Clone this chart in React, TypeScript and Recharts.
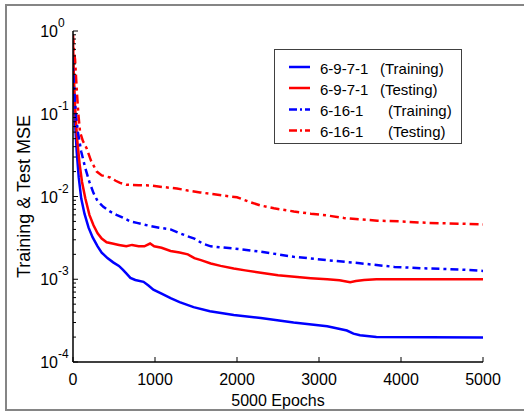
import { LineChart, Line, XAxis, YAxis } from 'recharts';

// series labels
const seriesNames = ['6-9-7-1', '6-9-7-1', '6-16-1', '6-16-1'];
const seriesKinds = ['(Training)', '(Testing)', '(Training)', '(Testing)'];

// 6-9-7-1 training
const net1TrainEpochs = [0, 10, 25, 45, 70, 100, 140, 190, 240, 300, 350, 420, 490, 560, 610, 650, 700, 760, 860, 920, 980, 1080, 1190, 1300, 1470, 1670, 1960, 2290, 2690, 3100, 3340, 3420, 3500, 3700, 5000];
const net1TrainMse = [0.5, 0.2, 0.08, 0.035, 0.017, 0.0095, 0.0062, 0.0042, 0.0032, 0.0025, 0.0021, 0.0018, 0.0016, 0.00145, 0.0013, 0.00118, 0.00104, 0.00098, 0.00093, 0.00084, 0.00075, 0.00067, 0.00059, 0.00053, 0.00046, 0.00041, 0.00037, 0.00034, 0.0003, 0.00027, 0.00024, 0.00022, 0.00021, 0.0002, 0.000198];

// 6-9-7-1 testing
const net1TestEpochs = [0, 10, 25, 50, 80, 110, 150, 200, 250, 300, 350, 410, 480, 560, 650, 720, 800, 870, 940, 990, 1080, 1190, 1300, 1400, 1480, 1560, 1680, 1800, 1960, 2100, 2290, 2500, 2700, 2900, 3100, 3250, 3380, 3450, 3550, 3700, 5000];
const net1TestMse = [0.8, 0.3, 0.12, 0.05, 0.025, 0.015, 0.0095, 0.006, 0.0045, 0.0036, 0.0031, 0.0028, 0.0027, 0.0026, 0.0025, 0.0026, 0.0025, 0.0025, 0.0027, 0.0025, 0.0024, 0.0022, 0.0021, 0.002, 0.0018, 0.0017, 0.00155, 0.00145, 0.00135, 0.00128, 0.0012, 0.00112, 0.00107, 0.00103, 0.001, 0.00097, 0.00092, 0.00095, 0.00098, 0.001, 0.001];

// 6-16-1 training
const net2TrainEpochs = [0, 15, 35, 60, 100, 150, 200, 250, 300, 370, 450, 530, 615, 700, 780, 860, 940, 1050, 1190, 1300, 1400, 1480, 1580, 1680, 1960, 2290, 2690, 3100, 3500, 3920, 4320, 4730, 5000];
const net2TrainMse = [0.5, 0.2, 0.1, 0.06, 0.035, 0.022, 0.015, 0.011, 0.0088, 0.0075, 0.0066, 0.006, 0.0055, 0.005, 0.0048, 0.0046, 0.0044, 0.0042, 0.004, 0.0036, 0.0033, 0.0031, 0.0027, 0.0025, 0.00235, 0.00215, 0.00187, 0.0017, 0.00156, 0.00141, 0.00135, 0.00131, 0.00126];

// 6-16-1 testing
const net2TestEpochs = [0, 10, 25, 45, 65, 86, 120, 167, 220, 290, 350, 452, 520, 574, 650, 800, 941, 1100, 1267, 1400, 1550, 1700, 1850, 2000, 2150, 2286, 2450, 2693, 2900, 3100, 3304, 3500, 3712, 4000, 4324, 4700, 5000];
const net2TestMse = [0.9, 0.6, 0.45, 0.2, 0.1, 0.06, 0.047, 0.038, 0.027, 0.02, 0.018, 0.017, 0.0155, 0.0146, 0.0139, 0.0137, 0.0136, 0.013, 0.0125, 0.0118, 0.0112, 0.0107, 0.0102, 0.0098, 0.0086, 0.0078, 0.0072, 0.0066, 0.0062, 0.0059, 0.0055, 0.0053, 0.0051, 0.005, 0.0048, 0.0047, 0.0046];

// axis ticks
const xTicks = [0, 1000, 2000, 3000, 4000, 5000];
const yDecades = [1e-4, 1e-3, 1e-2, 1e-1, 1];
const yMinorSteps = [2, 3, 4, 5, 6, 7, 8, 9];

const yTicks: number[] = [];
yDecades.forEach((d, i) => {
    yTicks.push(d);
    if (i < yDecades.length - 1) yMinorSteps.forEach(m => yTicks.push(d * m));
});

const zip = (xs: number[], ys: number[]) => xs.map((x, i) => ({ x, y: ys[i] }));

const series = [
    { data: zip(net1TrainEpochs, net1TrainMse), color: '#0000ff', dash: undefined },
    { data: zip(net1TestEpochs, net1TestMse), color: '#ff0000', dash: undefined },
    { data: zip(net2TrainEpochs, net2TrainMse), color: '#0000ff', dash: '8 4 3 4' },
    { data: zip(net2TestEpochs, net2TestMse), color: '#ff0000', dash: '9 4 3 4' },
];

const FONT = '"Liberation Sans", Arial, sans-serif';

const isMajor = (v: number) => {
    const l = Math.log10(v);
    return Math.abs(l - Math.round(l)) < 1e-6;
};

const LeftTick = ({ x, y, payload }: any) => {
    const major = isMajor(payload.value);
    const exp = Math.round(Math.log10(payload.value));
    return (
        <g>
            <line x1={x} x2={x + (major ? 5 : 3)} y1={y} y2={y} stroke="#000" />
            {major && (
                <>
                    <text x={x - 15} y={y + 6} textAnchor="end" fontSize={16} fontFamily={FONT} fill="#000">10</text>
                    <text x={x - 15} y={y - 4} textAnchor="start" fontSize={12} fontFamily={FONT} fill="#000">{exp}</text>
                </>
            )}
        </g>
    );
};

const RightTick = ({ x, y, payload }: any) => (
    <line x1={x} x2={x - (isMajor(payload.value) ? 5 : 3)} y1={y} y2={y} stroke="#000" />
);

const BottomTick = ({ x, y, payload }: any) => (
    <g>
        <line x1={x} x2={x} y1={y} y2={y - 5} stroke="#000" />
        <text x={x} y={y + 23} textAnchor="middle" fontSize={16} fontFamily={FONT} fill="#000">{payload.value}</text>
    </g>
);

const TopTick = ({ x, y }: any) => <line x1={x} x2={x} y1={y} y2={y + 5} stroke="#000" />;

export default function App() {
    return (
        <div style={{ position: 'fixed', left: 0, top: 0, width: 524, height: 414, background: '#fff', overflow: 'hidden' }}>
            {/* outer figure frame */}
            <div style={{ position: 'absolute', left: 5, top: 4, width: 540, height: 407, boxSizing: 'border-box', border: '2px solid #858585' }} />

            <div style={{ position: 'absolute', left: 0, top: 0 }}>
                <LineChart width={524} height={414} margin={{ top: 31, right: 41, bottom: 8, left: 8 }}>
                    <XAxis
                        xAxisId="bottom" type="number" dataKey="x" domain={[0, 5000]} ticks={xTicks} interval={0}
                        allowDataOverflow tickSize={0} tickMargin={0} tickLine={false} tick={<BottomTick />}
                        axisLine={{ stroke: '#000', strokeWidth: 1.5 }} height={44}
                        label={{ value: '5000 Epochs', position: 'insideBottom', offset: 0, fontSize: 16, fontFamily: FONT, fill: '#000' }}
                    />
                    <XAxis
                        xAxisId="top" orientation="top" type="number" dataKey="x" domain={[0, 5000]} ticks={xTicks} interval={0}
                        allowDataOverflow tickSize={0} tickMargin={0} tickLine={false} tick={<TopTick />}
                        axisLine={{ stroke: '#000', strokeWidth: 1.5 }} height={0}
                    />
                    <YAxis
                        yAxisId="left" type="number" scale="log" domain={[1e-4, 1]} ticks={yTicks} interval={0}
                        allowDataOverflow tickSize={0} tickMargin={0} tickLine={false} tick={<LeftTick />}
                        axisLine={{ stroke: '#000', strokeWidth: 1.5 }} width={65}
                        label={{ value: 'Training & Test MSE', angle: -90, position: 'insideLeft', offset: 16, fontSize: 18, fontFamily: FONT, fill: '#000', style: { textAnchor: 'middle' } }}
                    />
                    <YAxis
                        yAxisId="right" orientation="right" type="number" scale="log" domain={[1e-4, 1]} ticks={yTicks} interval={0}
                        allowDataOverflow tickSize={0} tickMargin={0} tickLine={false} tick={<RightTick />}
                        axisLine={{ stroke: '#000', strokeWidth: 1.5 }} width={0}
                    />
                    {series.map((s, i) => (
                        <Line
                            key={i}
                            xAxisId="bottom"
                            yAxisId="left"
                            data={s.data}
                            dataKey="y"
                            type="linear"
                            stroke={s.color}
                            strokeWidth={2.5}
                            strokeDasharray={s.dash}
                            dot={false}
                            isAnimationActive={false}
                        />
                    ))}
                </LineChart>
            </div>

            {/* legend */}
            <svg style={{ position: 'absolute', left: 274, top: 49 }} width={188} height={95}>
                <rect x={0.5} y={0.5} width={187} height={94} fill="#fff" stroke="#404040" strokeWidth={1} />
                {series.map((s, i) => {
                    const cy = [19, 40, 61.5, 82.5][i];
                    return (
                        <g key={i}>
                            <line x1={15} x2={36} y1={cy - 1} y2={cy - 1} stroke={s.color} strokeWidth={2.5} strokeDasharray={s.dash ? '8 3 2 3' : undefined} />
                            <text x={46} y={cy + 5.5} fontSize={15} fontFamily={FONT} fill="#000">{seriesNames[i]}</text>
                            <text x={i < 2 ? 106 : 114} y={cy + 5.5} fontSize={15} fontFamily={FONT} fill="#000">{seriesKinds[i]}</text>
                        </g>
                    );
                })}
            </svg>
        </div>
    );
}
